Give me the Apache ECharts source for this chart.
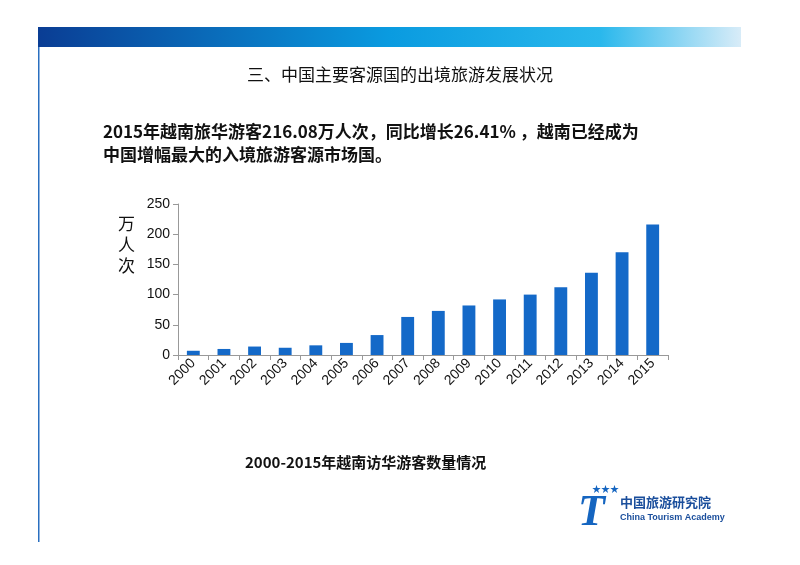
<!DOCTYPE html>
<html>
<head>
<meta charset="utf-8">
<script src="https://cdn.jsdelivr.net/npm/echarts@6/dist/echarts.min.js"></script>
<style>html,body{margin:0;padding:0;background:#fff}#chart{width:800px;height:565px}</style>
</head>
<body>
<div id="chart"></div>
<script>
// 越南访华游客 2000-2015（万人次）
const years = ['2000', '2001', '2002', '2003', '2004', '2005', '2006', '2007',
               '2008', '2009', '2010', '2011', '2012', '2013', '2014', '2015'];
const visitors = [7, 10, 14, 12, 16, 20, 33, 63, 73, 82, 92, 100, 112, 136, 170, 216];
const yTicks = [0, 50, 100, 150, 200, 250];

const font = '"Noto Sans CJK SC", "Liberation Sans", sans-serif';
const numFont = '"Liberation Sans", Arial, sans-serif';
const chart = echarts.init(document.getElementById('chart'));

chart.setOption({
  animation: false,
  textStyle: { fontFamily: font },
  grid: { left: 178, right: 132, top: 204, height: 151 },
  xAxis: {
    type: 'category',
    data: years,
    axisLine: { lineStyle: { color: '#999' } },
    axisTick: { show: true, lineStyle: { color: '#999' } },
    axisLabel: { color: '#111', fontSize: 14, fontFamily: numFont, rotate: 45, margin: 6 }
  },
  yAxis: {
    type: 'value',
    min: yTicks[0],
    max: yTicks[yTicks.length - 1],
    interval: 50,
    axisLine: { show: true, lineStyle: { color: '#999' } },
    axisTick: { show: true, lineStyle: { color: '#999' } },
    splitLine: { show: false },
    axisLabel: { color: '#111', fontSize: 14, fontFamily: numFont }
  },
  series: [{
    type: 'bar',
    data: visitors,
    barWidth: '42%',
    itemStyle: { color: '#1469c8' }
  }],
  graphic: [
    // 顶部渐变条
    {
      type: 'rect', shape: { x: 38, y: 27, width: 703, height: 20 },
      style: {
        fill: new echarts.graphic.LinearGradient(0, 0, 1, 0, [
          { offset: 0, color: '#0a3d94' },
          { offset: 0.5, color: '#0a9be0' },
          { offset: 0.8, color: '#2ab8ec' },
          { offset: 1, color: '#d8ecf8' }
        ])
      }
    },
    { type: 'rect', shape: { x: 38, y: 47, width: 1.5, height: 495 }, style: { fill: '#2a6fc0' } },
    {
      type: 'text', left: 'center', top: 66,
      style: { text: '三、中国主要客源国的出境旅游发展状况', font: '17px ' + font, fill: '#111' }
    },
    {
      type: 'text', left: 103, top: 120,
      style: {
        text: '2015年越南旅华游客216.08万人次，同比增长26.41% ，越南已经成为\n中国增幅最大的入境旅游客源市场国。',
        font: 'bold 17px ' + font, fill: '#111', lineHeight: 23
      }
    },
    {
      type: 'text', left: 118, top: 213,
      style: { text: '万\n人\n次', font: '17px ' + font, fill: '#111', lineHeight: 21 }
    },
    {
      type: 'text', left: 245, top: 455,
      style: { text: '2000-2015年越南访华游客数量情况', font: 'bold 15px ' + font, fill: '#111' }
    },
    // 右下角标志
    {
      type: 'text', left: 578, top: 492,
      style: { text: 'T', font: 'bold italic 44px "Liberation Serif", serif', fill: '#1565c0' }
    },
    {
      type: 'text', left: 592, top: 484,
      style: { text: '★★★', font: '9px ' + font, fill: '#1565c0' }
    },
    {
      type: 'text', left: 620, top: 496,
      style: { text: '中国旅游研究院', font: 'bold 13px ' + font, fill: '#1a4e9c' }
    },
    {
      type: 'text', left: 620, top: 513,
      style: { text: 'China Tourism Academy', font: 'bold 9px "Liberation Sans", sans-serif', fill: '#1a4e9c' }
    }
  ]
});
</script>
</body>
</html>
